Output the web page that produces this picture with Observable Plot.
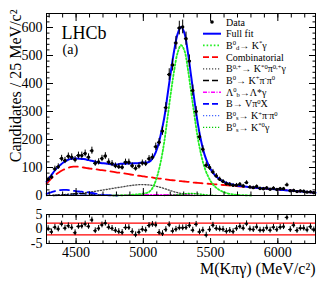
<!DOCTYPE html>
<html><head><meta charset="utf-8">
<script src="https://cdn.jsdelivr.net/npm/d3@7"></script>
<script src="https://cdn.jsdelivr.net/npm/@observablehq/plot@0.6"></script>
<style>
body{margin:0;background:#fff;}
#chart{position:relative;width:332px;height:281px;}
#chart svg{display:block;}
</style></head><body><div id="chart"></div>
<script>
// ---- data ----
const binCenters = d3.range(4292.5, 6280, 25); // 25 MeV bins
const counts = [58,66,95,103,132,125,140,137,128,143,
 143,150,137,160,115,120,132,141,120,114,
 106,103,101,119,119,106,97,105,116,114,
 131,137,174,190,230,314,432,466,545,598,
 602,560,480,375,300,210,165,108,100,84,
 70,58,50,42,40,36,37,40,34,46,
 30,28,32,25,24,27,22,26,21,24,
 24,38,17,18,14,16,15,12,13,10];
const pulls = [0.1,-1.0,0.6,0.0,1.7,0.3,1.1,0.5,-1.3,0.9,
 1.0,1.7,0.9,3.1,-0.6,0.2,1.4,2.0,0.6,0.2,
 -0.5,-0.9,-1.2,0.5,0.5,-0.9,-2.0,-1.1,-0.1,-0.4,
 1.2,1.6,1.4,-1.2,-1.6,-0.2,1.5,-0.7,-0.1,0.4,
 0.4,0.5,1.2,-0.4,1.6,-1.0,-0.4,-2.1,-0.2,1.3,
 0.2,0.0,-0.1,-0.8,-0.5,-0.9,0.2,0.9,0.3,1.8,
 0.0,-0.2,0.7,-0.4,-0.4,0.4,-0.4,0.6,-0.2,0.6,
 0.8,4.0,-0.2,1.3,-0.5,0.3,0.3,-0.3,0.8,-0.3];
const step = 25;
const fitFrom = 4280;
const fullFit = [49,65.5,82,97,108,118,125,130,132,132,
 131.5,130,128,125,122.5,119,116,115,113.5,112,
 111,111,113,113,114,114.5,115,115.5,117,117.5,
 118,124.5,141.5,171.5,218.5,276,359,443.5,519.5,577,
 601.5,580.5,515,427,339,256.5,193.5,146,114,90,
 73.5,62.5,54,48,43,40,37,35,33.5,32,
 30.5,29,28,27,26,25,24,23,22,21,
 20,19,18,17,16,15,14,13,12,11,10];
const combFrom = 4280;
const combinatorial = [42,55,67,77,85,92,97,101,103,103,
 102,100,98,96,95,93,91,90,88,86,
 84,82,81,79,77,75,73,71,70,68,
 66,65,63,61,60,58,57,55,54,52,
 51,50,49,47,46,45,44,43,42,41,
 40,39,38,37,36,35,34,33,32,31,
 30,29,28,27,26,25,24,23,22,21,
 20,19,18,17,16,15,14,13,12,11,10];
const signalFrom = 4780;
const signalBd = [0,0.5,0.8,1,1.5,2,3,4,5,7,10,18,38,72,122,190,278,368,448,510,537,518,455,370,285,205,145,100,70,48,33,23,16,11,7,5,3,2,1.5,1,0.5,0];
const kstPiFrom = 4280;
const kstPiGamma = [0,0.5,1,1.5,2,3,4,5,6,7,8,9.5,11,12.5,14,16,18,20,22,24,26,28,30,32,34,35.5,37,38,39,39,38,37,35,32,29,25,21,17,13,10,7,5,3,2,1,0.5,0];
const kpipiFrom = 4330;
const kpipi0 = [0,1,1.5,2,3,4,5,5.5,6,6,5.5,5,4,3,2,1.5,1,0.5,0.2,0];
const lambdaFrom = 4780;
const lambdaB = [0,0.5,1,1,1.5,2,2,2.5,3,3,3,3,3,3,3,3,3,2.5,2.5,2,2,1.5,1,0.5,0];
const vpiFrom = 4280;
const vPi0X = [6,10,14,17,19,20,20,19,17,15,14,13,12,10,8,6,4,2.5,1.5,0.7,0.3,0];
const bsKpipiFrom = 4355;
const bsKpipi0 = [0,0.5,0.5,1,1,1,1.5,1.5,1.5,1.5,1.5,1.5,1,1,1,1,1,0];
const bsKstFrom = 5155;
const bsKstGamma = [0,0.5,1,2,3,4.5,6,7,7.5,7,6,4.5,3,2,1,0.5,0];

const xMajor = [4500,5000,5500,6000];
const yMajor = [0,100,200,300,400,500,600];
const pullTicks = [-5,0,5];
const pullBands = [-2,2];

const serif = '"Liberation Serif","Times New Roman",serif';
const series = (from, vals) => vals.map((v,i)=>({m: from + step*i, v}));
const dataRows = binCenters.map((m,i)=>({m, n: counts[i], p: pulls[i]}));

const comps = [
  {from: combFrom, vals: combinatorial, stroke:"#ff0000", w:1.8, dash:"9,5"},
  {from: kstPiFrom, vals: kstPiGamma, stroke:"#444444", w:1.3, dash:"1.2,1.8"},
  {from: kpipiFrom, vals: kpipi0, stroke:"#000000", w:1.5, dash:"6,3"},
  {from: lambdaFrom, vals: lambdaB, stroke:"#ff00ff", w:1.5, dash:"5,2,1,2"},
  {from: vpiFrom, vals: vPi0X, stroke:"#0000ff", w:1.8, dash:"9,5"},
  {from: bsKpipiFrom, vals: bsKpipi0, stroke:"#4466ff", w:1.3, dash:"1.2,1.8"},
  {from: bsKstFrom, vals: bsKstGamma, stroke:"#00cc00", w:1.3, dash:"1.2,1.8"},
  {from: signalFrom, vals: signalBd, stroke:"#22ee22", w:1.8, dash:"1.6,2"}
];

const xMinor = d3.range(4300, 6281, 100);
const yMinor = d3.range(0, 651, 20);
const blank = () => "";

const main = Plot.plot({
  width: 332, height: 200,
  marginLeft: 46, marginRight: 17, marginTop: 13, marginBottom: 5,
  style: {fontFamily: serif, fontSize: "14px", background: "white", overflow: "visible"},
  x: {domain: [4280, 6280]},
  y: {domain: [0, 650]},
  marks: [
    ...comps.map(c => Plot.line(series(c.from, c.vals), {x:"m", y:"v", stroke:c.stroke, strokeWidth:c.w, strokeDasharray:c.dash, curve:"catmull-rom"})),
    Plot.line(series(fitFrom, fullFit), {x:"m", y:"v", stroke:"#0000ff", strokeWidth:2, curve:"catmull-rom"}),
    Plot.ruleX(dataRows, {x:"m", y1: d=>d.n-Math.sqrt(d.n), y2: d=>d.n+Math.sqrt(d.n), stroke:"black", strokeWidth:1}),
    Plot.ruleY(dataRows, {y:"n", x1: d=>d.m-12.5, x2: d=>d.m+12.5, stroke:"black", strokeWidth:1}),
    Plot.dot(dataRows, {x:"m", y:"n", r:1.7, fill:"black", stroke:"none"}),
    Plot.frame({stroke:"black", strokeWidth:1}),
    Plot.axisY({anchor:"left", ticks:yMajor, tickSize:-7, tickFormat:blank, label:null}),
    Plot.axisY({anchor:"left", ticks:yMinor, tickSize:-3.5, tickFormat:blank, label:null}),
    Plot.axisY({anchor:"right", ticks:yMajor, tickSize:-7, tickFormat:blank, label:null}),
    Plot.axisY({anchor:"right", ticks:yMinor, tickSize:-3.5, tickFormat:blank, label:null}),
    Plot.axisX({anchor:"bottom", ticks:xMajor, tickSize:-7, tickFormat:blank, label:null}),
    Plot.axisX({anchor:"bottom", ticks:xMinor, tickSize:-3.5, tickFormat:blank, label:null}),
    Plot.axisX({anchor:"top", ticks:xMajor, tickSize:-7, tickFormat:blank, label:null}),
    Plot.axisX({anchor:"top", ticks:xMinor, tickSize:-3.5, tickFormat:blank, label:null}),
    Plot.axisY({anchor:"left", ticks:yMajor, tickSize:0, tickPadding:4, tickFormat: d=>String(d), label:null, fontSize:14}),
    Plot.text(["Candidates / 25 MeV/c²"], {frameAnchor:"top-left", rotate:-90, textAnchor:"end", dx:-37, dy:-4, fontSize:16}),
    Plot.text(["LHCb"], {frameAnchor:"top-left", textAnchor:"start", dx:15, dy:13, fontSize:18}),
    Plot.text(["(a)"], {frameAnchor:"top-left", textAnchor:"start", dx:16, dy:31, fontSize:14})
  ]
});

const resid = Plot.plot({
  width: 332, height: 81,
  marginLeft: 46, marginRight: 17, marginTop: 14, marginBottom: 38,
  style: {fontFamily: serif, fontSize: "14px", background: "white", overflow: "visible"},
  x: {domain: [4280, 6280]},
  y: {domain: [-5, 5]},
  marks: [
    Plot.ruleY(pullBands, {y: d=>d, stroke:"#ff0000", strokeWidth:1.2}),
    Plot.ruleX(dataRows, {x:"m", y1: d=>d.p-1, y2: d=>d.p+1, stroke:"black", strokeWidth:1}),
    Plot.ruleY(dataRows, {y:"p", x1: d=>d.m-12.5, x2: d=>d.m+12.5, stroke:"black", strokeWidth:1}),
    Plot.dot(dataRows, {x:"m", y:"p", r:1.4, fill:"black", stroke:"none"}),
    Plot.frame({stroke:"black", strokeWidth:1}),
    Plot.axisY({anchor:"left", ticks:pullTicks, tickSize:-5, tickFormat:blank, label:null}),
    Plot.axisY({anchor:"right", ticks:pullTicks, tickSize:-5, tickFormat:blank, label:null}),
    Plot.axisX({anchor:"bottom", ticks:xMajor, tickSize:-5, tickFormat:blank, label:null}),
    Plot.axisX({anchor:"bottom", ticks:xMinor, tickSize:-2.5, tickFormat:blank, label:null}),
    Plot.axisX({anchor:"top", ticks:xMajor, tickSize:-5, tickFormat:blank, label:null}),
    Plot.axisX({anchor:"top", ticks:xMinor, tickSize:-2.5, tickFormat:blank, label:null}),
    Plot.axisY({anchor:"left", ticks:pullTicks, tickSize:0, tickPadding:4, tickFormat: d=>String(d), label:null, fontSize:14}),
    Plot.axisX({anchor:"bottom", ticks:xMajor, tickSize:0, tickPadding:4, tickFormat: d=>String(d), label:null, fontSize:14}),
    Plot.text(["M(Kπγ) (MeV/c²)"], {frameAnchor:"bottom-right", textAnchor:"end", dy:30, fontSize:16})
  ]
});

const chart = document.getElementById("chart");
chart.appendChild(main);
chart.appendChild(resid);

// ---- legend ----
const legendRows = [
  {kind:"dot", parts:[["Data"]]},
  {stroke:"#0000ff", w:2, dash:null, parts:[["Full fit"]]},
  {stroke:"#22ee22", w:1.8, dash:"1.6,2", parts:[["B"],["0","sup"],["d","sub"],["→ K"],["*","sup"],["γ"]]},
  {stroke:"#ff0000", w:1.8, dash:"6,3", parts:[["Combinatorial"]]},
  {stroke:"#444444", w:1.3, dash:"1.2,1.8", parts:[["B"],["0,+","sup"],["→ K"],["*0","sup"],["π"],["0,+","sup"],["γ"]]},
  {stroke:"#000000", w:1.5, dash:"6,3", parts:[["B"],["0","sup"],["→ K"],["+","sup"],["π"],["-","sup"],["π"],["0","sup"]]},
  {stroke:"#ff00ff", w:1.5, dash:"4,1.5,1,1.5", parts:[["Λ"],["0","sup"],["b","sub"],["→Λ*γ"]]},
  {stroke:"#0000ff", w:1.8, dash:"6,3", parts:[["B→ Vπ"],["0","sup"],["X"]]},
  {stroke:"#4466ff", w:1.3, dash:"1.2,1.8", parts:[["B"],["0","sup"],["s","sub"],["→ K"],["+","sup"],["π"],["-","sup"],["π"],["0","sup"]]},
  {stroke:"#00cc00", w:1.3, dash:"1.2,1.8", parts:[["B"],["0","sup"],["s","sub"],["→ K"],["*0","sup"],["γ"]]}
];
const fs = 10;
const small = 6.6;
const lg = d3.select(main).append("g").attr("font-family", serif).attr("font-size", fs).attr("text-anchor", "start");
legendRows.forEach((r, i) => {
  const y = 22 + i*11.7;
  if (r.kind === "dot") {
    lg.append("circle").attr("cx", 212).attr("cy", y).attr("r", 1.8).attr("fill", "black");
  } else {
    lg.append("line").attr("x1", 203).attr("x2", 221).attr("y1", y).attr("y2", y)
      .attr("stroke", r.stroke).attr("stroke-width", r.w).attr("stroke-dasharray", r.dash);
  }
  const t = lg.append("text").attr("x", 226).attr("y", y + 3.5).attr("text-anchor", "start");
  let shift = 0;
  r.parts.forEach(([s, kind]) => {
    const target = kind === "sup" ? -3.6 : kind === "sub" ? 1.3 : 0;
    const ts = t.append("tspan").text(s).attr("dy", target - shift);
    if (kind) ts.attr("font-size", small);
    shift = target;
  });
});
</script>
</body></html>
